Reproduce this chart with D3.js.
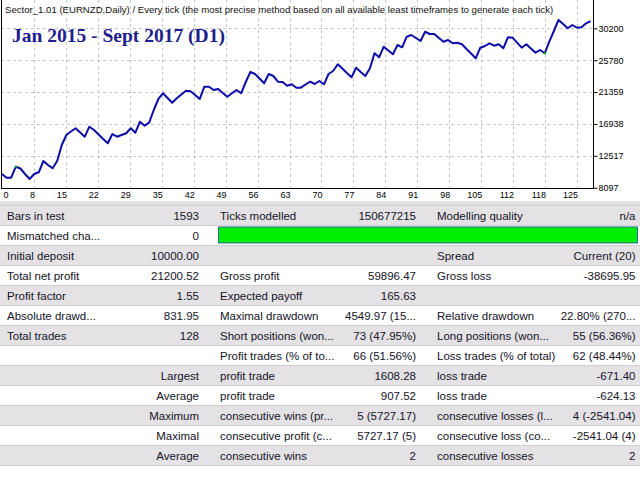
<!DOCTYPE html>
<html>
<head>
<meta charset="utf-8">
<script src="https://cdn.jsdelivr.net/npm/d3@7"></script>
<style>
  html, body { margin: 0; padding: 0; background: #fff; }
  svg { display: block; }
</style>
</head>
<body>
<svg id="chart" width="640" height="480"></svg>
<script>
// ---------- DATA ----------
const headerText = "Sector_1.01 (EURNZD,Daily) / Every tick (the most precise method based on all available least timeframes to generate each tick)";
const titleText = "Jan 2015 - Sept 2017 (D1)";

// balance after each trade (trade 0 = initial deposit)
const balance = [
  10000, 9484, 9484, 11009, 10759, 9997, 9303, 9997, 10233, 11800,
  11245, 10787, 11800, 14018, 15405, 15890, 16334, 15752, 15169, 16556,
  16098, 15474, 14850, 14254, 15544, 15169, 15405, 15641, 16334, 15724,
  17249, 16695, 17111, 18872, 20397, 21187, 20536, 19884, 20494, 21021,
  21548, 21465, 20952, 20397, 22103, 22103, 21645, 21784, 21229, 20716,
  21187, 21645, 21187, 22754, 24141, 23864, 23240, 22574, 23864, 23586,
  22796, 22754, 22241, 22435, 21964, 21964, 22408, 22796, 22477, 22893,
  22435, 23864, 24280, 25209, 24626, 24002, 23406, 24737, 24141, 23586,
  24654, 26734, 26180, 27649, 27122, 26596, 27885, 27566, 29036, 29272,
  28856, 28440, 29730, 29411, 29411, 28856, 28343, 28579, 28121, 28204,
  27982, 27330, 26707, 26041, 27511, 27747, 28121, 27788, 27982, 27428,
  28953, 28898, 28204, 27511, 27982, 27400, 26817, 27192, 26734, 28343,
  29827, 31352, 30797, 30201, 30659, 30284, 30340, 30894, 31200.52
];
const markerTrades = [3, 118];

const xTickLabels = ["0","8","15","22","29","35","42","49","56","63","70","77","84","91","98","105","112","118","125"];
const yTickValues = [8097, 12517, 16938, 21359, 25780, 30200];

const colALabels = ["Bars in test","Mismatched cha...","Initial deposit","Total net profit","Profit factor","Absolute drawd...","Total trades","","","","","",""];
const colAValues = ["1593","0","10000.00","21200.52","1.55","831.95","128","","Largest","Average","Maximum","Maximal","Average"];
const colBLabels = ["Ticks modelled","","","Gross profit","Expected payoff","Maximal drawdown","Short positions (won...","Profit trades (% of to...","profit trade","profit trade","consecutive wins (pr...","consecutive profit (c...","consecutive wins"];
const colBValues = ["150677215","","","59896.47","165.63","4549.97 (15...","73 (47.95%)","66 (51.56%)","1608.28","907.52","5 (5727.17)","5727.17 (5)","2"];
const colCLabels = ["Modelling quality","","Spread","Gross loss","","Relative drawdown","Long positions (won...","Loss trades (% of total)","loss trade","loss trade","consecutive losses (l...","consecutive loss (co...","consecutive losses"];
const colCValues = ["n/a","","Current (20)","-38695.95","","22.80% (270...","55 (56.36%)","62 (48.44%)","-671.40","-624.13","4 (-2541.04)","-2541.04 (4)","2"];
const qualityBarRow = 1;

// ---------- LAYOUT ----------
const svg = d3.select("#chart");
const plotLeft = 1, plotRight = 593, plotTop = 0, plotBottom = 188;
const font = "'Liberation Sans', Arial, sans-serif";

const x = d3.scaleLinear().domain([0, balance.length - 1]).range([2, 590.7]);
const gridX = d3.scaleLinear().domain([0, xTickLabels.length - 1]).range([2, 577]);
const y = d3.scaleLinear().domain([8097, 30200]).range([187.7, 28.3]);

// grid
const grid = svg.append("g");
grid.selectAll("line.v").data(d3.range(1, xTickLabels.length)).enter().append("line")
  .attr("x1", d => Math.round(gridX(d)) + 0.5).attr("x2", d => Math.round(gridX(d)) + 0.5)
  .attr("y1", plotTop).attr("y2", plotBottom)
  .attr("stroke", "#c8c8c8").attr("stroke-width", 1).attr("stroke-dasharray", "3,3");
grid.selectAll("line.h").data(yTickValues.slice(1)).enter().append("line")
  .attr("x1", plotLeft).attr("x2", plotRight)
  .attr("y1", d => Math.round(y(d)) + 0.5).attr("y2", d => Math.round(y(d)) + 0.5)
  .attr("stroke", "#c8c8c8").attr("stroke-width", 1).attr("stroke-dasharray", "3,3");

// frame
svg.append("line").attr("x1", 1.5).attr("x2", 1.5).attr("y1", 0).attr("y2", plotBottom + 0.5).attr("stroke", "#000");
svg.append("line").attr("x1", 1).attr("x2", plotRight + 1).attr("y1", plotBottom + 0.5).attr("y2", plotBottom + 0.5).attr("stroke", "#000");
svg.append("line").attr("x1", plotRight + 0.5).attr("x2", plotRight + 0.5).attr("y1", 0).attr("y2", plotBottom + 0.5).attr("stroke", "#000");

// header + title
svg.append("text").attr("x", 5).attr("y", 12.5).attr("font-family", font).attr("font-size", 9.6)
  .attr("fill", "#111").text(headerText);
svg.append("text").attr("x", 12).attr("y", 42).attr("font-family", "'Liberation Serif', 'Times New Roman', serif")
  .attr("font-weight", "bold").attr("font-size", 19.5).attr("fill", "#1e1e8c").text(titleText);

// balance line
const line = d3.line().x((d, i) => x(i)).y(d => y(d));
svg.append("path").datum(balance).attr("d", line)
  .attr("fill", "none").attr("stroke", "#0c0ca8").attr("stroke-width", 2).attr("stroke-linejoin", "round");
svg.selectAll("rect.mk").data(markerTrades).enter().append("rect")
  .attr("x", d => x(d) - 1).attr("y", d => y(balance[d]) - 1).attr("width", 2).attr("height", 2)
  .attr("fill", "#00c000");

// y axis (right)
const yAxis = d3.axisRight(y).tickValues(yTickValues).tickSize(4).tickPadding(1).tickFormat(d => d);
const gy = svg.append("g").attr("transform", `translate(${plotRight + 0.5},0)`).call(yAxis);
gy.select(".domain").remove();
gy.selectAll("text").attr("font-family", font).attr("font-size", 9).attr("fill", "#000");
gy.selectAll("line").attr("stroke", "#000");

// x axis labels
const xAxis = d3.axisBottom(gridX).tickValues(d3.range(xTickLabels.length)).tickSize(0).tickPadding(4)
  .tickFormat(i => xTickLabels[i]);
const gx = svg.append("g").attr("transform", `translate(0,${plotBottom})`).call(xAxis);
gx.select(".domain").remove();
gx.selectAll("text").attr("font-family", font).attr("font-size", 9).attr("fill", "#000")
  .attr("text-anchor", (d, i) => i === 0 ? "start" : "end").attr("dx", (d, i) => i === 0 ? 1 : 0.5);

// ---------- TABLE ----------
const rowScale = d3.scaleBand().domain(d3.range(colALabels.length)).range([205.5, 205.5 + 20 * colALabels.length]);
const tbl = svg.append("g");
svg.insert("rect", "g").attr("x", 0).attr("y", 201).attr("width", 640).attr("height", 4).attr("fill", "#e2e0e2");
tbl.selectAll("rect.row").data(d3.range(colALabels.length)).enter().append("rect")
  .attr("x", 0).attr("y", d => rowScale(d)).attr("width", 640).attr("height", rowScale.bandwidth())
  .attr("fill", d => d % 2 === 0 ? "#e4e2e4" : "#ffffff");
tbl.selectAll("line.sep").data(d3.range(colALabels.length + 1)).enter().append("line")
  .attr("x1", 0).attr("x2", 640)
  .attr("y1", d => 205.5 + 20 * d).attr("y2", d => 205.5 + 20 * d)
  .attr("stroke", "#cfcdcf").attr("stroke-width", 1);

// quality bar
tbl.append("rect").attr("x", 218.5).attr("y", rowScale(qualityBarRow) + 1.5).attr("width", 419)
  .attr("height", 16).attr("fill", "#00ee00").attr("stroke", "#2a6a9a").attr("stroke-width", 1);

function col(labels, xPos, anchor) {
  tbl.selectAll(null).data(labels).enter().append("text")
    .attr("x", xPos).attr("y", (d, i) => rowScale(i) + 14.5)
    .attr("text-anchor", anchor)
    .attr("font-family", font).attr("font-size", 11.5).attr("fill", "#141428")
    .text(d => d);
}
col(colALabels, 7, "start");
col(colAValues, 199, "end");
col(colBLabels, 220, "start");
col(colBValues, 416, "end");
col(colCLabels, 437, "start");
col(colCValues, 635.5, "end");
</script>
</body>
</html>
